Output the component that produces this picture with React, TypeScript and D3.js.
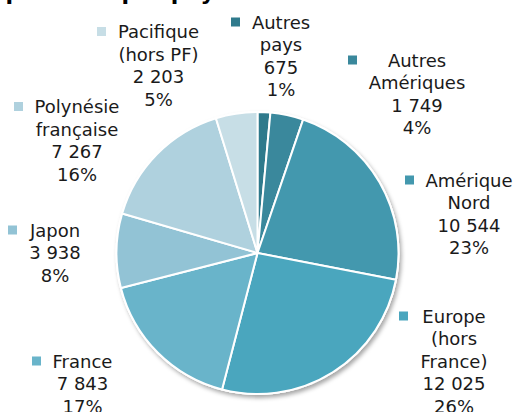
import React, { useRef, useEffect } from "react";
import * as d3 from "d3";

// data, clockwise from 12 o'clock
const categories = [
  ["Autres", "pays"],
  ["Autres", "Amériques"],
  ["Amérique", "Nord"],
  ["Europe", "(hors", "France)"],
  ["France"],
  ["Japon"],
  ["Polynésie", "française"],
  ["Pacifique", "(hors PF)"],
];
const values = [675, 1749, 10544, 12025, 7843, 3938, 7267, 2203];
const valueLabels = ["675", "1 749", "10 544", "12 025", "7 843", "3 938", "7 267", "2 203"];
const percentLabels = ["1%", "4%", "23%", "26%", "17%", "8%", "16%", "5%"];
const colors = ["#2F7A8C", "#3A889C", "#4398AE", "#4AA6BE", "#69B4CA", "#92C3D5", "#AFD1DE", "#C7DEE6"];

// label layout: text centre x, first baseline y, legend square left x
const labelLayout = [
  { x: 281, y: 28.5, sq: 231 },
  { x: 417, y: 66.5, sq: 348 },
  { x: 469, y: 186.5, sq: 405 },
  { x: 454, y: 322.5, sq: 399 },
  { x: 82.5, y: 367.5, sq: 32 },
  { x: 55, y: 236.5, sq: 8 },
  { x: 77, y: 113, sq: 14 },
  { x: 158.5, y: 38, sq: 97 },
];
const lineStep = 22.5;

const W = 515;
const H = 412;

const App = () => {
  const svgRef = useRef(null);

  useEffect(() => {
    const svg = d3.select(svgRef.current);
    svg.selectAll("*").remove();

    const cx = 257.5, cy = 253, r = 141;

    const defs = svg.append("defs");
    const f = defs.append("filter").attr("id", "shadow")
      .attr("x", "-10%").attr("y", "-10%").attr("width", "125%").attr("height", "125%");
    f.append("feDropShadow").attr("dx", 2).attr("dy", 3).attr("stdDeviation", 2.2)
      .attr("flood-color", "#000").attr("flood-opacity", 0.35);

    // title (mostly cut off at the top)
    svg.append("text")
      .attr("x", 228).attr("y", -0.5)
      .attr("text-anchor", "end")
      .attr("font-family", "DejaVu Sans, Verdana, sans-serif")
      .attr("font-weight", "bold")
      .attr("font-size", 22)
      .attr("fill", "#000")
      .text("Répartition par pays");

    const pie = d3.pie<number>().sort(null).value(d => d);
    const arc = d3.arc<d3.PieArcDatum<number>>().innerRadius(0).outerRadius(r);

    const g = svg.append("g").attr("transform", `translate(${cx},${cy})`);

    g.append("circle").attr("r", r + 1)
      .attr("fill", "#fff")
      .attr("filter", "url(#shadow)");

    g.selectAll("path.slice")
      .data(pie(values))
      .enter()
      .append("path")
      .attr("class", "slice")
      .attr("d", arc)
      .attr("fill", (_, i) => colors[i])
      .attr("stroke", "#fff")
      .attr("stroke-width", 2)
      .attr("stroke-linejoin", "round");

    // labels
    const lg = svg.append("g")
      .attr("font-family", "DejaVu Sans, Verdana, sans-serif")
      .attr("font-size", 18)
      .attr("fill", "#1a1a1a");

    categories.forEach((lines, i) => {
      const pos = labelLayout[i];
      const all = [...lines, valueLabels[i], percentLabels[i]];
      const t = lg.append("text").attr("text-anchor", "middle");
      all.forEach((s, j) => {
        t.append("tspan").attr("x", pos.x).attr("y", pos.y + j * lineStep).text(s);
      });
      lg.append("rect")
        .attr("x", pos.sq).attr("y", pos.y - 11)
        .attr("width", 9).attr("height", 9)
        .attr("fill", colors[i]);
    });
  });

  return (
    <svg ref={svgRef} width={W} height={H}
      style={{ position: "absolute", left: 0, top: 0, background: "#fff" }}>
    </svg>
  );
};

export default App;
